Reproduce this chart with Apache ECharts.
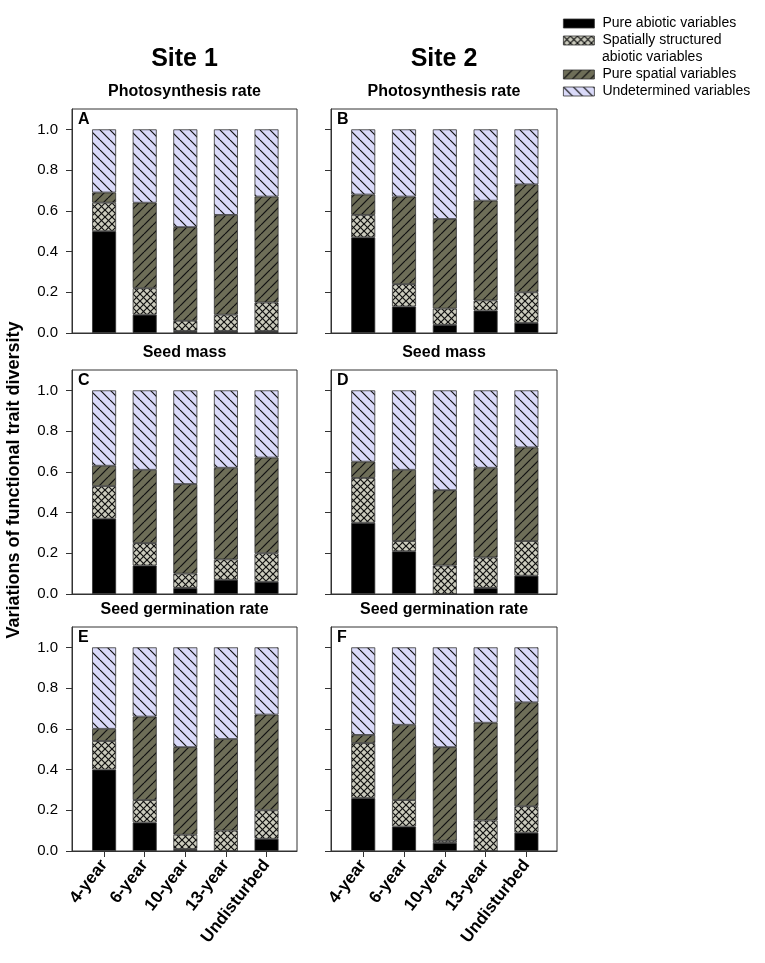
<!DOCTYPE html>
<html>
<head>
<meta charset="utf-8">
<script src="https://cdn.jsdelivr.net/npm/echarts@6/dist/echarts.min.js"></script>
<style>
  html, body { margin: 0; padding: 0; background: #fff; }
  #chart { width: 765px; height: 963px; }
</style>
</head>
<body>
<div id="chart"></div>
<script>
// stands
const stages = ["4-year", "6-year", "10-year", "13-year", "Undisturbed"];
const yTicks = [0, 0.2, 0.4, 0.6, 0.8, 1.0];

// fractions per stand (each panel sums to 1)
// A: site 1, photosynthesis rate
const pureAbioticA = [0.50, 0.09, 0.01, 0.01, 0.01];
const spatAbioticA = [0.14, 0.13, 0.05, 0.08, 0.14];
const pureSpatialA = [0.05, 0.42, 0.46, 0.49, 0.52];
const undeterA = [0.31, 0.36, 0.48, 0.42, 0.33];
// B: site 2, photosynthesis rate
const pureAbioticB = [0.47, 0.13, 0.04, 0.11, 0.05];
const spatAbioticB = [0.11, 0.11, 0.08, 0.05, 0.15];
const pureSpatialB = [0.10, 0.43, 0.44, 0.49, 0.53];
const undeterB = [0.32, 0.33, 0.44, 0.35, 0.27];
// C: site 1, seed mass
const pureAbioticC = [0.37, 0.14, 0.03, 0.07, 0.06];
const spatAbioticC = [0.16, 0.11, 0.07, 0.10, 0.14];
const pureSpatialC = [0.10, 0.36, 0.44, 0.45, 0.47];
const undeterC = [0.37, 0.39, 0.46, 0.38, 0.33];
// D: site 2, seed mass
const pureAbioticD = [0.35, 0.21, 0.00, 0.03, 0.09];
const spatAbioticD = [0.22, 0.05, 0.14, 0.15, 0.17];
const pureSpatialD = [0.08, 0.35, 0.37, 0.44, 0.46];
const undeterD = [0.35, 0.39, 0.49, 0.38, 0.28];
// E: site 1, seed germination rate
const pureAbioticE = [0.40, 0.14, 0.01, 0.00, 0.06];
const spatAbioticE = [0.14, 0.11, 0.07, 0.10, 0.14];
const pureSpatialE = [0.06, 0.41, 0.43, 0.45, 0.47];
const undeterE = [0.40, 0.34, 0.49, 0.45, 0.33];
// F: site 2, seed germination rate
const pureAbioticF = [0.26, 0.12, 0.04, 0.00, 0.09];
const spatAbioticF = [0.27, 0.13, 0.01, 0.15, 0.13];
const pureSpatialF = [0.04, 0.37, 0.46, 0.48, 0.51];
const undeterF = [0.43, 0.38, 0.49, 0.37, 0.27];

const seriesNames = [
  "Pure abiotic variables",
  "Spatially structured abiotic variables",
  "Pure spatial variables",
  "Undetermined variables"
];

const panels = [
  { letter: "A", parts: [pureAbioticA, spatAbioticA, pureSpatialA, undeterA] },
  { letter: "B", parts: [pureAbioticB, spatAbioticB, pureSpatialB, undeterB] },
  { letter: "C", parts: [pureAbioticC, spatAbioticC, pureSpatialC, undeterC] },
  { letter: "D", parts: [pureAbioticD, spatAbioticD, pureSpatialD, undeterD] },
  { letter: "E", parts: [pureAbioticE, spatAbioticE, pureSpatialE, undeterE] },
  { letter: "F", parts: [pureAbioticF, spatAbioticF, pureSpatialF, undeterF] }
];

const rowTitles = ["Photosynthesis rate", "Seed mass", "Seed germination rate"];

// hatch fills
function hatch(size, bg, dirs) {
  const c = document.createElement("canvas");
  c.width = size;
  c.height = size;
  const ctx = c.getContext("2d");
  ctx.fillStyle = bg;
  ctx.fillRect(0, 0, size, size);
  ctx.strokeStyle = "#111";
  ctx.lineWidth = 1.2;
  dirs.forEach(d => {
    for (let k = -1; k <= 1; k++) {
      ctx.beginPath();
      if (d === "/") {
        ctx.moveTo(k * size, size);
        ctx.lineTo(k * size + size, 0);
      } else {
        ctx.moveTo(k * size, 0);
        ctx.lineTo(k * size + size, size);
      }
      ctx.stroke();
    }
  });
  return { image: c, repeat: "repeat" };
}

const fills = [
  "#000000",
  hatch(7, "#cbcbbd", ["/", "\\"]),
  hatch(9, "#6e6e58", ["/"]),
  hatch(10, "#dadaf9", ["\\"])
];

const colLeft = [72, 331];
const colWidth = [225, 226];
const rowTop = [109, 370, 627];
const gridH = 224;

const grids = [], xAxes = [], yAxes = [], series = [], texts = [];

panels.forEach((p, i) => {
  const row = Math.floor(i / 2), col = i % 2;
  const bottomRow = row === 2;
  grids.push({
    left: colLeft[col], top: rowTop[row], width: colWidth[col], height: gridH,
    show: true, borderColor: "#333", borderWidth: 1
  });
  xAxes.push({
    type: "value", gridIndex: i, min: -0.79, max: 4.75,
    axisLine: { show: true, onZero: false, lineStyle: { color: "#333" } },
    splitLine: { show: false },
    axisTick: { show: bottomRow, customValues: [0, 1, 2, 3, 4], length: 6, lineStyle: { color: "#333" } },
    axisLabel: {
      show: bottomRow, customValues: [0, 1, 2, 3, 4], rotate: 52, margin: 11,
      formatter: v => stages[Math.round(v)],
      fontFamily: "Liberation Sans", fontWeight: "bold", fontSize: 17, color: "#000"
    }
  });
  yAxes.push({
    type: "value", gridIndex: i, min: 0, max: 1.1,
    axisLine: { show: true, onZero: false, lineStyle: { color: "#333" } },
    splitLine: { show: false },
    axisTick: { show: true, customValues: yTicks, length: 6, lineStyle: { color: "#333" } },
    axisLabel: {
      show: col === 0, customValues: yTicks, margin: 14,
      formatter: v => v.toFixed(1),
      fontFamily: "Liberation Sans", fontSize: 15, color: "#000"
    }
  });
  p.parts.forEach((vals, s) => {
    series.push({
      type: "bar", name: seriesNames[s], xAxisIndex: i, yAxisIndex: i,
      stack: "p" + i, barWidth: 24,
      // value first so the stack runs along y
      encode: { x: 1, y: 0 },
      itemStyle: { color: fills[s], borderColor: "#333", borderWidth: 0.8 },
      data: vals.map((v, k) => [v, k])
    });
  });
  texts.push({
    type: "text", left: colLeft[col] + 6, top: rowTop[row] + 3,
    style: { text: p.letter, font: "bold 16px 'Liberation Sans'", fill: "#000" }
  });
  if (col === 0) {
    [0, 1].forEach(c => {
      texts.push({
        type: "text", x: colLeft[c] + colWidth[c] / 2, y: rowTop[row] - 17,
        style: { text: rowTitles[row], font: "bold 16px 'Liberation Sans'", fill: "#000",
          textAlign: "center", textVerticalAlign: "middle" }
      });
    });
  }
});

["Site 1", "Site 2"].forEach((t, c) => {
  texts.push({
    type: "text", x: colLeft[c] + colWidth[c] / 2, y: 59,
    style: { text: t, font: "bold 25px 'Liberation Sans'", fill: "#000",
      textAlign: "center", textVerticalAlign: "middle" }
  });
});

texts.push({
  type: "text", x: 14, y: 480, rotation: Math.PI / 2,
  style: { text: "Variations of functional trait diversity", font: "bold 18px 'Liberation Sans'",
    fill: "#000", textAlign: "center", textVerticalAlign: "middle" }
});

// second line of the wrapped legend entry
texts.push({
  type: "text", x: 602, y: 57,
  style: { text: "abiotic variables", font: "14px 'Liberation Sans'", fill: "#000",
    textVerticalAlign: "middle" }
});

const legendBase = {
  orient: "vertical", left: 558, itemWidth: 31, itemHeight: 9, itemGap: 0,
  icon: "rect", selectedMode: false,
  formatter: n => n === seriesNames[1] ? "Spatially structured" : n,
  itemStyle: { borderColor: "#333", borderWidth: 0.8 },
  textStyle: { fontFamily: "Liberation Sans", fontSize: 14, lineHeight: 17, color: "#000",
    padding: [0, 0, 0, 3] }
};

const chart = echarts.init(document.getElementById("chart"));
chart.setOption({
  animation: false,
  backgroundColor: "#fff",
  legend: [
    Object.assign({}, legendBase, { top: 10, data: seriesNames.slice(0, 2) }),
    Object.assign({}, legendBase, { top: 61, data: seriesNames.slice(2) })
  ],
  grid: grids,
  xAxis: xAxes,
  yAxis: yAxes,
  series: series,
  graphic: texts
});
</script>
</body>
</html>
